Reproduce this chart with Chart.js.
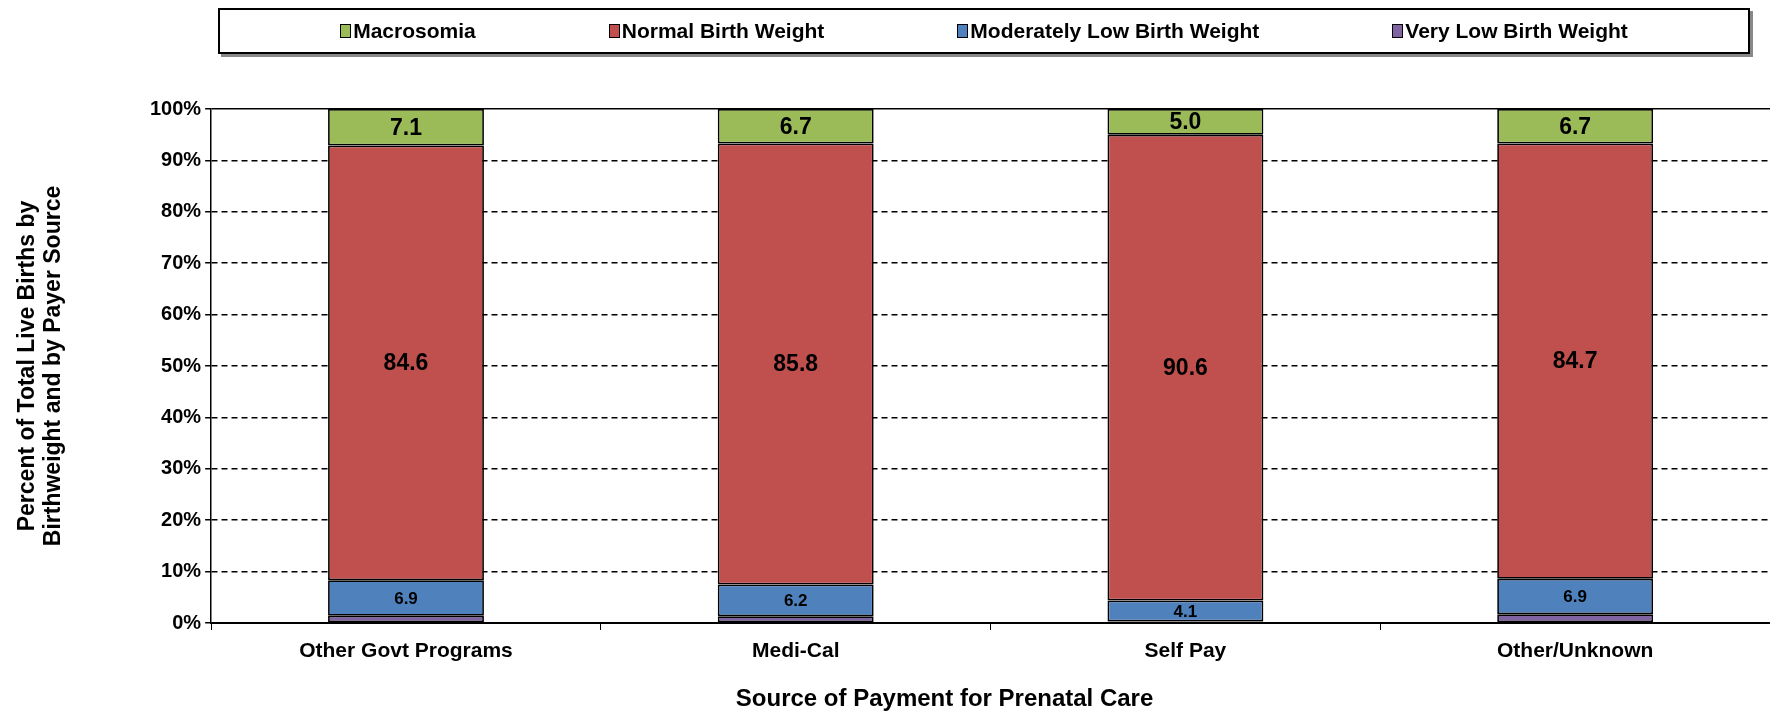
<!DOCTYPE html>
<html lang="en">

<head>
    <meta charset="UTF-8">
    <title>Birthweight by Payer Source</title>
    <style>
        body { margin: 0; background: #fff; font-family: "Liberation Sans", Arial, sans-serif; }
        #wrap { position: relative; width: 1770px; height: 714px; }
        #legendBox {
            position: absolute; left: 218px; top: 8px; width: 1528px; height: 42px;
            border: 2px solid #000; box-shadow: 3px 3px 0 #888;
            display: flex; justify-content: center; align-items: center; gap: 133px;
            font-weight: bold; font-size: 21px; background: #fff;
        }
        .item { display: flex; align-items: center; }
        .sw { width: 9px; height: 12px; border: 1.5px solid #000; margin-right: 2px; }
    </style>
</head>

<body>
    <div id="wrap">
        <canvas id="myChart" width="1770" height="714"></canvas>
        <div id="legendBox"></div>
    </div>
    <script src="https://cdn.jsdelivr.net/npm/chart.js"></script>
    <script>
        // categories + series (percent)
        const categories = ['Other Govt Programs', 'Medi-Cal', 'Self Pay', 'Other/Unknown'];
        const veryLow = [1.4, 1.3, 0.3, 1.7];
        const moderatelyLow = [6.9, 6.2, 4.1, 6.9];
        const normal = [84.6, 85.8, 90.6, 84.7];
        const macrosomia = [7.1, 6.7, 5.0, 6.7];
        const yTicks = [0, 10, 20, 30, 40, 50, 60, 70, 80, 90, 100];
        const xTitle = 'Source of Payment for Prenatal Care';

        // which datasets get value labels, and how big
        const labelSize = { 1: 17, 2: 23, 3: 23 };
        const titleFont = 'bold 24px "Liberation Sans", Arial';

        const barLabels = {
            id: 'barLabels',
            afterDatasetsDraw(chart) {
                const ctx = chart.ctx;
                ctx.save();
                ctx.fillStyle = '#000';
                ctx.textAlign = 'center';
                ctx.textBaseline = 'middle';
                chart.data.datasets.forEach((ds, i) => {
                    if (!labelSize[i]) return;
                    ctx.font = 'bold ' + labelSize[i] + 'px "Liberation Sans", Arial';
                    chart.getDatasetMeta(i).data.forEach((bar, j) => {
                        const p = bar.getProps(['x', 'y', 'base'], true);
                        ctx.fillText(ds.data[j].toFixed(1), p.x, (p.y + p.base) / 2 + 1);
                    });
                });
                ctx.restore();
            }
        };

        // the x title in the original sits a bit left of the plot centre
        const xTitleShifted = {
            id: 'xTitleShifted',
            afterDraw(chart) {
                const ctx = chart.ctx, a = chart.chartArea;
                ctx.save();
                ctx.font = titleFont;
                ctx.fillStyle = '#000';
                ctx.textAlign = 'center';
                ctx.textBaseline = 'middle';
                ctx.fillText(xTitle, (a.left + a.right) / 2 - 46, chart.scales.x.bottom - 15);
                ctx.restore();
            }
        };

        const ctx1 = document.getElementById('myChart');
        const myChart = new Chart(ctx1, {
            type: 'bar',
            data: {
                labels: categories,
                datasets: [
                    { label: 'Very Low Birth Weight', data: veryLow, backgroundColor: '#8064a2' },
                    { label: 'Moderately Low Birth Weight', data: moderatelyLow, backgroundColor: '#4f81bd' },
                    { label: 'Normal Birth Weight', data: normal, backgroundColor: '#c0504d' },
                    { label: 'Macrosomia', data: macrosomia, backgroundColor: '#9bbb59' }
                ]
            },
            options: {
                responsive: false,
                animation: false,
                datasets: {
                    bar: {
                        borderColor: '#000',
                        borderWidth: 1.75,
                        borderSkipped: false,
                        categoryPercentage: 0.4,
                        barPercentage: 1
                    }
                },
                layout: { padding: { top: 109, right: 0, left: 15, bottom: 0 } },
                plugins: {
                    legend: { display: false },
                    tooltip: { enabled: false }
                },
                scales: {
                    x: {
                        stacked: true,
                        grid: { drawOnChartArea: false, color: '#000', tickLength: 7, lineWidth: 1, offset: true },
                        border: { color: '#000', width: 2 },
                        ticks: {
                            color: '#000',
                            padding: 9,
                            font: { family: '"Liberation Sans", Arial', weight: 'bold', size: 21 }
                        },
                        title: {
                            // keeps the room for the title, drawn by xTitleShifted
                            display: true,
                            text: xTitle,
                            color: 'rgba(0,0,0,0)',
                            padding: { top: 12, bottom: 0 },
                            font: { family: '"Liberation Sans", Arial', weight: 'bold', size: 24 }
                        }
                    },
                    y: {
                        stacked: true,
                        min: 0,
                        max: 100,
                        afterBuildTicks(axis) { axis.ticks = yTicks.map(v => ({ value: v })); },
                        grid: {
                            color: '#000',
                            lineWidth: 1.5,
                            tickLength: 6
                        },
                        border: {
                            color: '#000',
                            width: 1.5,
                            dash: c => (c.tick && c.tick.value === 100 ? [] : [6, 4])
                        },
                        ticks: {
                            color: '#000',
                            padding: 4,
                            callback: v => v + '%',
                            font: { family: '"Liberation Sans", Arial', weight: 'bold', size: 20 }
                        },
                        title: {
                            display: true,
                            text: ['Percent of Total Live Births by', 'Birthweight and by Payer Source'],
                            color: '#000',
                            padding: { top: 0, bottom: 79 },
                            font: { family: '"Liberation Sans", Arial', weight: 'bold', size: 23, lineHeight: 1.13 }
                        }
                    }
                }
            },
            plugins: [barLabels, xTitleShifted]
        });

        // html legend, reversed so it reads top-of-stack first
        const box = document.getElementById('legendBox');
        myChart.data.datasets.slice().reverse().forEach(ds => {
            const it = document.createElement('div');
            it.className = 'item';
            it.innerHTML = '<span class="sw" style="background:' + ds.backgroundColor + '"></span>' + ds.label;
            box.appendChild(it);
        });
    </script>
</body>

</html>
